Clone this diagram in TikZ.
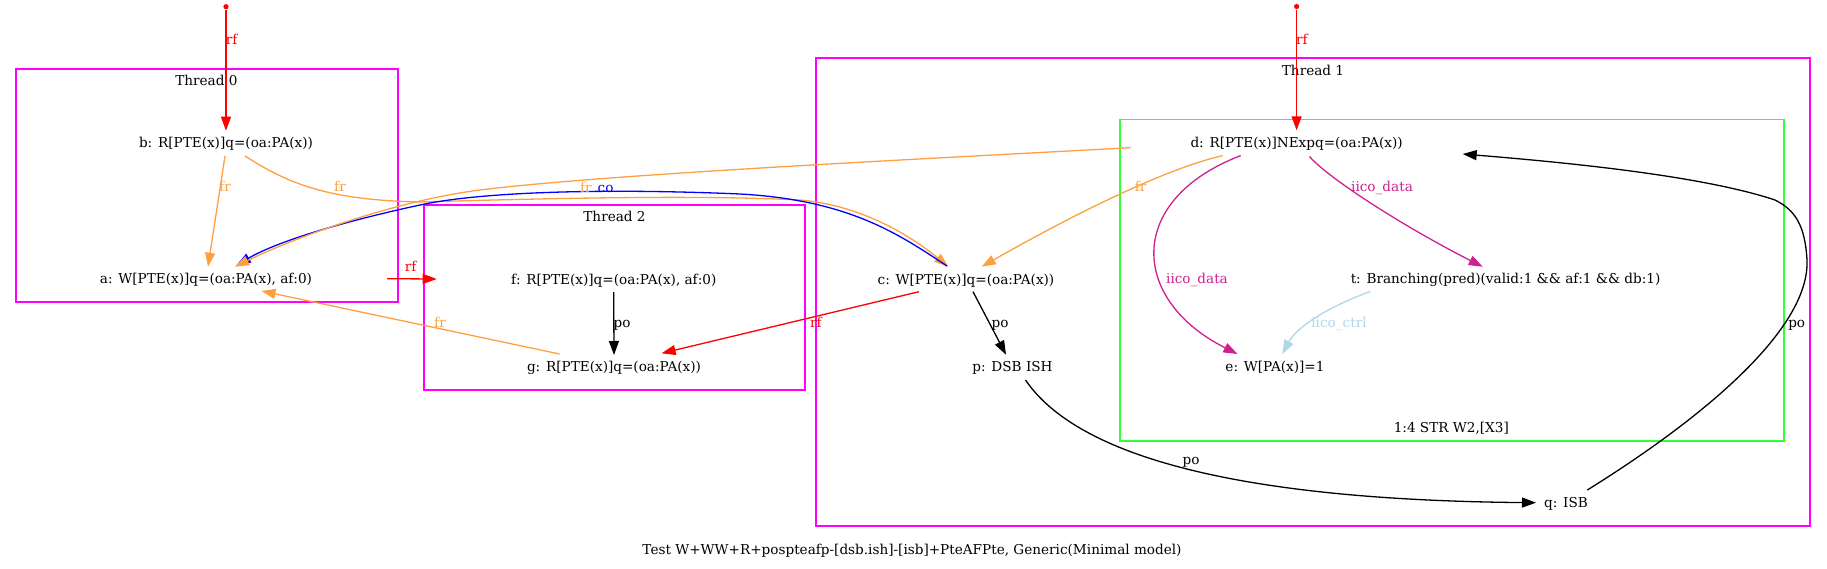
\documentclass[tikz,border=0pt]{standalone}
\usepackage{fontspec}
\setmainfont{DejaVu Serif}
\usetikzlibrary{arrows.meta,calc}
\definecolor{frc}{HTML}{FFA040}
\definecolor{iicoc}{HTML}{D02090}
\definecolor{ctrlc}{HTML}{ADD8E6}
\definecolor{thrc}{HTML}{FF00FF}
\definecolor{grnc}{HTML}{33FF33}
\begin{document}
\begin{tikzpicture}[x=0.5pt,y=-0.5pt,
  font=\fontsize{6.8}{8}\selectfont,
  lbl/.style={inner sep=0pt, text height=0.75em, text depth=0.25em, anchor=center},
  elbl/.style={lbl},
  dotnode/.style={circle, fill=red, inner sep=0pt, minimum size=2.6pt},
  edge/.style={line width=0.65pt, -{Triangle[length=7pt,width=5pt]}},
  rfe/.style={edge, red},
  fre/.style={edge, frc},
  poe/.style={edge, black},
  coe/.style={edge, blue},
  iicoe/.style={edge, iicoc},
  ctrle/.style={edge, ctrlc},
  thrbox/.style={draw=thrc, line width=0.8pt},
  grnbox/.style={draw=grnc, line width=0.8pt}
]
\useasboundingbox (0,0) rectangle (1827,568);

% clusters
\draw[thrbox] (16,69) rectangle (397.7,302);
\draw[thrbox] (424,205) rectangle (805,390);
\draw[thrbox] (816,58) rectangle (1810,526);
\draw[grnbox] (1120,119.5) rectangle (1784,440.7);

\node[lbl] (t0) at (206.4,80.7) {Thread 0};
\node[lbl] (t2) at (614.5,216.7) {Thread 2};
\node[lbl] (t1) at (1313,70.2) {Thread 1};
\node[lbl] (str) at (1451.3,427.4) {1:4 STR W2,[X3]};
\node[lbl] (cap) at (912,549) {Test W+WW+R+pospteafp-[dsb.ish]-[isb]+PteAFPte, Generic(Minimal model)};

% events
\node[lbl] (b) at (226,142.7) {b: R[PTE(x)]q=(oa:PA(x))};
\node[lbl] (a) at (206,278.7) {a: W[PTE(x)]q=(oa:PA(x), af:0)};
\node[lbl] (f) at (613.7,279) {f: R[PTE(x)]q=(oa:PA(x), af:0)};
\node[lbl] (g) at (614,366.7) {g: R[PTE(x)]q=(oa:PA(x))};
\node[lbl] (c) at (966,279) {c: W[PTE(x)]q=(oa:PA(x))};
\node[lbl] (p) at (1012.5,366.3) {p: DSB ISH};
\node[lbl] (q) at (1566,502.7) {q: ISB};
\node[lbl] (d) at (1296.6,142.6) {d: R[PTE(x)]NExpq=(oa:PA(x))};
\node[lbl] (t) at (1505.6,278.7) {t: Branching(pred)(valid:1 \&\& af:1 \&\& db:1)};
\node[lbl] (e) at (1275,366.3) {e: W[PA(x)]=1};

\node[dotnode] (i0) at (226,6.7) {};
\node[dotnode] (i1) at (1296.6,6.5) {};

% init rf
\draw[rfe] (i0) -- ($(b)+(0,-12)$);
\node[elbl, text=red] (l1) at (231.7,39) {rf};
\draw[rfe] (i1) -- ($(d)+(0,-12.3)$);
\node[elbl, text=red] (l2) at (1302,39) {rf};

% thread 0
\draw[fre] ($(b)+(-1,13.3)$) -- ($(a)+(2,-12)$);
\node[elbl, text=frc] (l3) at (225,186.7) {fr};

% b -> c fr
\draw[fre] ($(b)+(19,13.3)$) .. controls (290,185) and (330,200) .. (420,202)
  .. controls (560,198) and (700,195) .. (800,200)
  .. controls (860,205) and (910,235) .. ($(c)+(-17.7,-12.3)$);
\node[elbl, text=frc] (l4) at (340,186.7) {fr};

% co c -> a
\draw[coe] ($(c)+(-19,-13)$) .. controls (900,235) and (850,200) .. (740,194)
  .. controls (600,188) and (480,192) .. (420,205)
  .. controls (350,220) and (280,240) .. ($(a)+(30.7,-13.7)$);
\node[elbl, text=blue] (l5) at (605.6,187) {co};

% fr d -> a
\draw[fre] ($(d)+(-166,5.1)$) .. controls (900,160) and (600,175) .. (480,190)
  .. controls (400,200) and (300,235) .. ($(a)+(29,-12)$);
\node[elbl, text=frc] (l6) at (585.8,187) {fr};

% fr d -> c
\draw[fre] ($(d)+(-73.9,13)$) .. controls (1160,170) and (1060,222) .. ($(c)+(15.7,-12.3)$);
\node[elbl, text=frc] (l7) at (1140.7,186.7) {fr};

% rf a -> f
\draw[rfe] ($(a)+(181,0)$) -- ($(f)+(-177,0)$);
\node[elbl, text=red] (l8) at (410.6,266.7) {rf};

% po f -> g
\draw[poe] ($(f)+(0,13)$) -- ($(g)+(0,-11.7)$);
\node[elbl] (l9) at (622,322.7) {po};

% fr g -> a
\draw[fre] ($(g)+(-54.4,-12.7)$) -- ($(a)+(55.5,12.3)$);
\node[elbl, text=frc] (l10) at (440,322.7) {fr};

% rf c -> g
\draw[rfe] ($(c)+(-47,12.7)$) -- ($(g)+(47.6,-13.4)$);
\node[elbl, text=red] (l11) at (816,322) {rf};

% po c -> p
\draw[poe] ($(c)+(7,12.7)$) -- ($(p)+(-6.5,-11.6)$);
\node[elbl] (l12) at (1000,322) {po};

% po p -> q
\draw[poe] ($(p)+(13,13.7)$) .. controls (1080,460) and (1250,500) .. ($(q)+(-30,0)$);
\node[elbl] (l13) at (1191,459) {po};

% po q -> d
\draw[poe] ($(q)+(21.3,-12.7)$) .. controls (1700,420) and (1810,330) .. (1807,260)
  .. controls (1805,225) and (1795,210) .. (1775,200)
  .. controls (1700,175) and (1560,162) .. ($(d)+(166.1,11.4)$);
\node[elbl] (l14) at (1796.7,322.7) {po};

% iico_data d -> e
\draw[iicoe] ($(d)+(-55.9,13)$) .. controls (1125,200) and (1130,300) .. ($(e)+(-37.5,-12.3)$);
\node[elbl, text=iicoc] (l15) at (1197,278.7) {iico\_data};

% iico_data d -> t
\draw[iicoe] ($(d)+(12.8,13.8)$) .. controls (1330,180) and (1410,230) .. ($(t)+(-22.9,-12)$);
\node[elbl, text=iicoc] (l16) at (1382,186.4) {iico\_data};

% iico_ctrl t -> e
\draw[ctrle] ($(t)+(-135.2,12.7)$) .. controls (1320,310) and (1295,330) .. ($(e)+(7.4,-12.3)$);
\node[elbl, text=ctrlc] (l17) at (1339,322) {iico\_ctrl};

\end{tikzpicture}
\end{document}
